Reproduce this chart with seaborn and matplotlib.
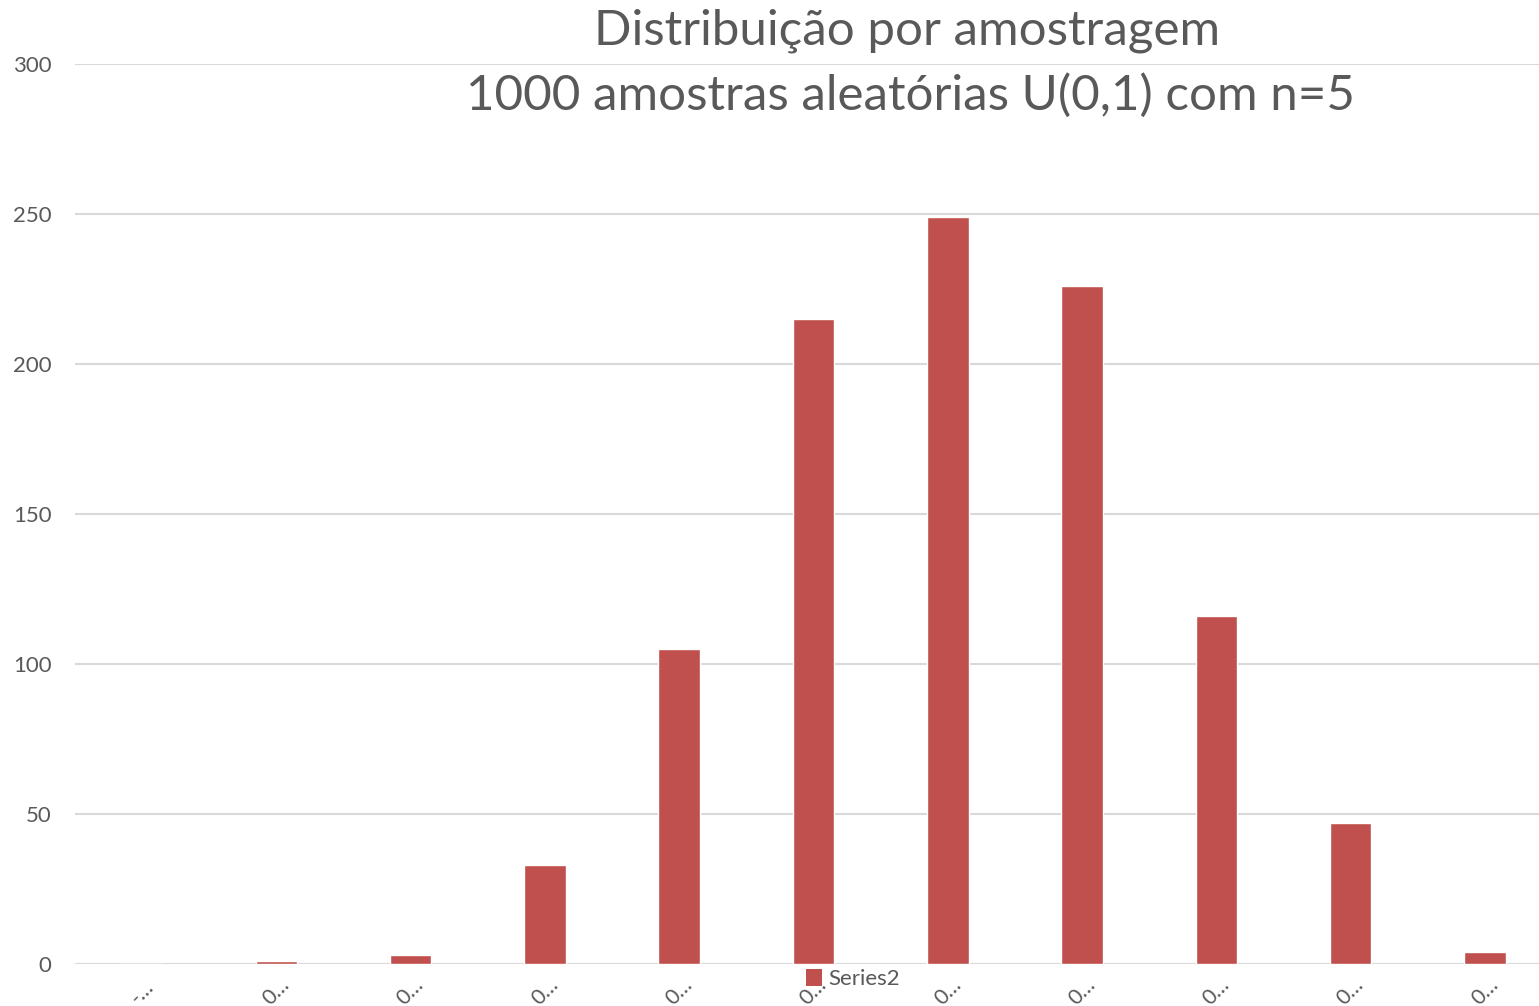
import numpy as np
import pandas as pd
import matplotlib.pyplot as plt
import seaborn as sns
from matplotlib.patches import Patch

# Data
categories = ["-…", "0…", "0…", "0…", "0…", "0…", "0…", "0…", "0…", "0…", "0…"]
counts = [0, 1, 3, 33, 105, 215, 249, 226, 116, 47, 4]
series_name = "Series2"
title_lines = ["Distribuição por amostragem", "1000 amostras aleatórias U(0,1) com n=5"]

df = pd.DataFrame({"pos": np.arange(len(counts)), "count": counts})

sns.set_style("white")
plt.rcParams['font.family'] = ['Lato', 'DejaVu Sans']

fig = plt.figure(figsize=(15.39, 10.06), dpi=100)
W, H = 1539, 1006
ax = fig.add_axes([75 / W, 42 / H, 1477 / W, 900 / H])

sns.barplot(data=df, x="pos", y="count", color="#c0504d", width=0.31,
            saturation=1, ax=ax, zorder=3)

ax.set_ylim(0, 300)
ax.set_yticks([0, 50, 100, 150, 200, 250, 300])
ax.set_xlim(-0.5, len(counts) - 0.5)
ax.yaxis.grid(True, color="#d9d9d9", linewidth=1.5, zorder=0)
ax.set_axisbelow(True)
for s in ax.spines.values():
    s.set_visible(False)
ax.tick_params(axis="y", length=0, pad=17, labelsize=16, labelcolor="#595959")
ax.tick_params(axis="x", length=0, pad=20, labelsize=15.5, labelcolor="#595959")
ax.set_xticks(range(len(categories)))
ax.set_xticklabels(categories, rotation=45, ha="center", va="center",
                   rotation_mode="anchor")
ax.set_xlabel("")
ax.set_ylabel("")

# two-line title, centred over the plot
fig.text(907 / W, 1 - 31 / H, title_lines[0], ha="center", va="center",
         fontsize=35.5, color="#595959")
fig.text(910 / W, 1 - 95 / H, title_lines[1], ha="center", va="center",
         fontsize=35.5, color="#595959")

handle = Patch(facecolor="#c0504d", edgecolor="none")
fig.legend([handle], [series_name], loc="center", bbox_to_anchor=(853 / W, 1 - 979 / H),
           frameon=False, fontsize=16, labelcolor="#595959", handlelength=0.7,
           handleheight=0.8, handletextpad=0.3)

fig.savefig("out.png", dpi=100)
